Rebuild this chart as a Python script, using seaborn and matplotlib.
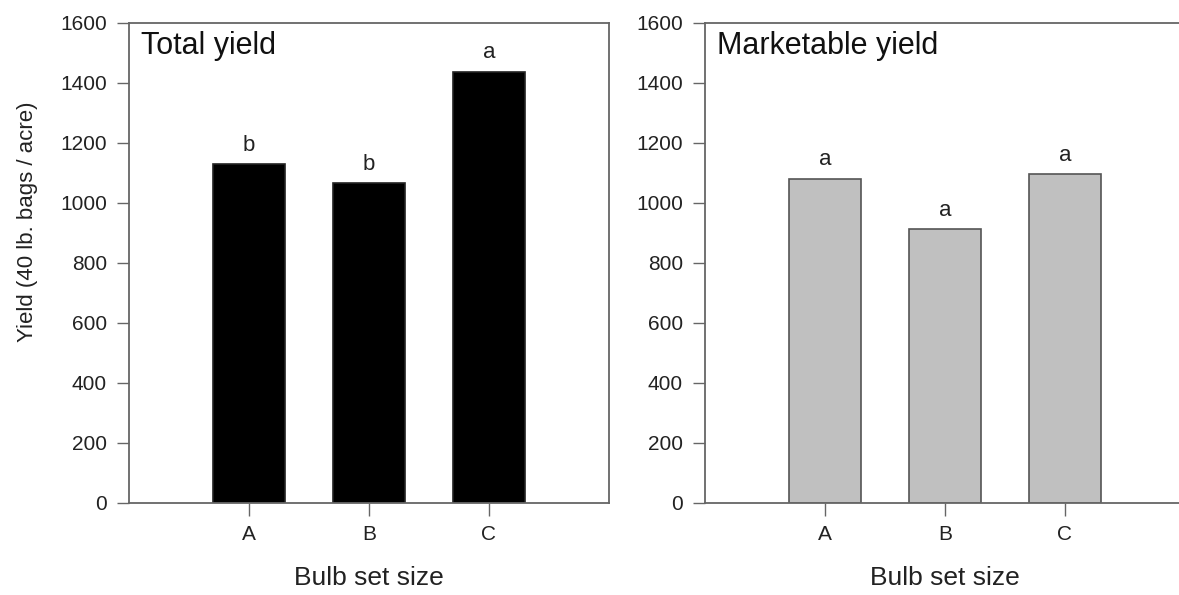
import numpy as np
import pandas as pd
import matplotlib
matplotlib.use("Agg")
import matplotlib.pyplot as plt
import seaborn as sns

# values
sizes = ["A", "B", "C"]
total_yield = [1129, 1065, 1436]
total_letters = ["b", "b", "a"]
marketable_yield = [1080, 912, 1096]
marketable_letters = ["a", "a", "a"]

sns.set_style("ticks")
plt.rcParams["font.family"] = ["Liberation Sans", "DejaVu Sans"]

W, H = 1179, 595
fig = plt.figure(figsize=(W / 100, H / 100), dpi=100)

# axes boxes in pixels: left, right, top, bottom
ax1 = fig.add_axes([129 / W, (H - 503) / H, 480 / W, 480.5 / H])
ax2 = fig.add_axes([705 / W, (H - 503) / H, 480 / W, 480.5 / H])

spine_col = "#666666"


def draw_panel(ax, values, letters, title, fill, edge):
    df = pd.DataFrame({"size": sizes, "yield": values})
    sns.barplot(data=df, x="size", y="yield", color=fill, saturation=1,
                width=0.6, edgecolor=edge, linewidth=1.2, errorbar=None, ax=ax)
    ax.set_xlim(-1, 3)
    ax.set_ylim(0, 1600)
    ax.set_yticks(np.arange(0, 1601, 200))
    ax.bar_label(ax.containers[0], labels=letters, padding=6, fontsize=16,
                 color="#222222")
    ax.text(0.024, 0.934, title, transform=ax.transAxes, fontsize=22,
            color="#111111", va="baseline")
    for sp in ax.spines.values():
        sp.set_visible(True)
        sp.set_color(spine_col)
        sp.set_linewidth(1.3)
    ax.tick_params(axis="both", direction="out", length=9, width=1.0,
                   color=spine_col, labelsize=15, labelcolor="#222222", pad=7)
    ax.set_xlabel("Bulb set size", fontsize=19, color="#222222", labelpad=16)
    ax.set_ylabel("")


draw_panel(ax1, total_yield, total_letters, "Total yield", "black", "#222222")
draw_panel(ax2, marketable_yield, marketable_letters, "Marketable yield",
           "#c0c0c0", "#555555")

ax1.set_ylabel("Yield (40 lb. bags / acre)", fontsize=16, color="#222222")
ax1.yaxis.set_label_coords(-0.19, 0.585)

fig.savefig("out.png", dpi=100)
